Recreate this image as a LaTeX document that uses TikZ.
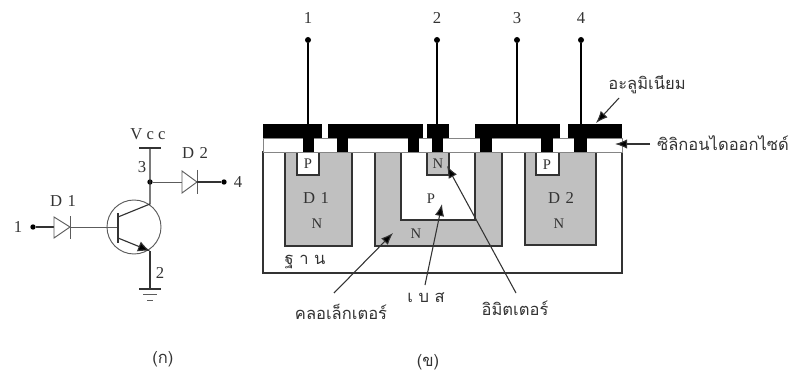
\documentclass[tikz,border=0pt]{standalone}
\usepackage{fontspec}
\setmainfont{Liberation Serif}
\newfontfamily\thaifont[Script=Thai]{Loma}
\usetikzlibrary{arrows.meta}
\definecolor{ink}{HTML}{333333}
\definecolor{region}{HTML}{C0C0C0}
\tikzset{
  x=0.75pt,y=-0.75pt,
  outline/.style={draw=ink,line width=0.9pt},
  metal/.style={fill=black,draw=none},
  wire/.style={draw=ink,line width=0.85pt},
  thin wire/.style={draw=ink!80,line width=0.7pt},
  pointer/.style={draw=ink,line width=0.8pt,-{Latex[length=9pt,width=7pt,fill=black]}},
  pin/.style={circle,fill=black,inner sep=0pt,minimum size=4.5pt},
  lab/.style={text=ink,font=\fontsize{12.5pt}{14pt}\selectfont,inner sep=0pt},
  small lab/.style={text=ink,font=\fontsize{11pt}{13pt}\selectfont,inner sep=0pt},
  thai lab/.style={text=ink,font=\thaifont\fontsize{12.4pt}{14pt}\selectfont,inner sep=0pt}
}
\begin{document}
\begin{tikzpicture}
\useasboundingbox (0,0) rectangle (792,374);
\fill[white] (0,0) rectangle (792,374);
% ---------- circuit (a)
\coordinate (bjtc) at (134,227);
\coordinate (b1) at (118,213);\coordinate (b2) at (118,243);
\coordinate (bjb) at (118,227);
\coordinate (cin) at (118,217);\coordinate (cout) at (150,204);
\coordinate (ein) at (118,238);\coordinate (eout) at (150,251);
\coordinate (vcc) at (150,148);\coordinate (gnd) at (150,289);
\draw[thin wire] (bjtc) circle (27);
\node[pin,minimum size=4pt] (p1) at (33,227) {};
\node[pin,minimum size=4pt] (p4) at (224,182) {};
\node[pin,minimum size=4pt] (jn) at (150,182) {};
\draw[wire] (p1) -- (54,227);
\draw[thin wire] (70,227) -- (bjb);
\draw[thin wire,fill=white] (54,217) -- (54,238) -- (70,227) -- cycle;
\draw[thin wire] (70,216) -- (70,239);
\draw[wire] (b1) -- (b2);
\draw[wire] (cin) -- (cout) -- (vcc);
\draw[wire] (139,148) -- (161,148);
\draw[thin wire] (jn) -- (182,182);
\draw[thin wire,fill=white] (182,171) -- (182,193) -- (197,182) -- cycle;
\draw[thin wire] (197,170) -- (197,194);
\draw[wire] (197,182) -- (p4);
\draw[wire,-{Latex[length=9pt,width=8pt,fill=black]}] (ein) -- (eout);
\draw[wire] (eout) -- (gnd);
\draw[wire] (139,289) -- (161,289);
\draw[thin wire] (143,294) -- (157,294);
\draw[thin wire] (147,300) -- (153,300);
\node[lab] (lvcc) at (148,134) {V c c};
\node[lab] (ld2) at (195,153) {D\,\,2};
\node[lab] (l3) at (142,167) {3};
\node[lab] (l4) at (238,182) {4};
\node[lab] (ld1) at (63,201) {D\,\,1};
\node[lab] (l1) at (18,227) {1};
\node[lab] (l2) at (160,273) {2};
\node[thai lab] (ca) at (163,359) {(ก)};
% ---------- cross-section (b)
\draw[outline,fill=white] (263,152) rectangle (622,273);
\draw[outline,fill=region] (285,152) rectangle (352,246);
\draw[outline,fill=white] (297,152) rectangle (319,175);
\draw[outline,fill=region] (375,152) rectangle (502,246);
\draw[outline,fill=white] (401,152) rectangle (475,220);
\draw[outline,fill=region] (427,152) rectangle (449,175);
\draw[outline,fill=region] (525,152) rectangle (596,245);
\draw[outline,fill=white] (536,152) rectangle (559,175);
\draw[draw=ink!60,line width=0.6pt,fill=white] (263,138) rectangle (622,152);
% metal
\fill[metal] (263,124) rectangle (322,138);
\fill[metal] (328,124) rectangle (423,138);
\fill[metal] (427,124) rectangle (449,138);
\fill[metal] (475,124) rectangle (560,138);
\fill[metal] (568,124) rectangle (622,138);
\fill[metal] (303,138) rectangle (314,152);
\fill[metal] (337,138) rectangle (348,152);
\fill[metal] (408,138) rectangle (419,152);
\fill[metal] (432,138) rectangle (443,152);
\fill[metal] (480,138) rectangle (492,152);
\fill[metal] (541,138) rectangle (553,152);
\fill[metal] (574,138) rectangle (587,152);
% terminals
\node[pin] (t1) at (308,40) {};
\node[pin] (t2) at (437,40) {};
\node[pin] (t3) at (517,40) {};
\node[pin] (t4) at (581,40) {};
\coordinate (m1) at (308,124);\coordinate (m2) at (437,124);
\coordinate (m3) at (517,124);\coordinate (m4) at (581,124);
\draw[wire,draw=black] (t1) -- (m1);
\draw[wire,draw=black] (t2) -- (m2);
\draw[wire,draw=black] (t3) -- (m3);
\draw[wire,draw=black] (t4) -- (m4);
\node[lab,anchor=base] (n1) at (308,24) {1};
\node[lab,anchor=base] (n2) at (437,24) {2};
\node[lab,anchor=base] (n3) at (517,24) {3};
\node[lab,anchor=base] (n4) at (581,24) {4};
% region labels
\node[small lab] (pa) at (308,164) {P};
\node[small lab] (pb) at (547,165) {P};
\node[small lab] (ne) at (438,164) {N};
\node[small lab] (pc) at (431,199) {P};
\node[small lab] (nc) at (416,234) {N};
\node[small lab] (na) at (317,224) {N};
\node[small lab] (nb) at (559,224) {N};
\node[lab] (d1) at (316,198) {D\,\,1};
\node[lab] (d2) at (561,198) {D\,\,2};
\node[thai lab] (sub) at (305,262) {ฐ า น};
% callouts
\node[thai lab] (al) at (647,85) {อะลูมิเนียม};
\node[thai lab] (ox) at (723,143) {ซิลิกอนไดออกไซด์};
\node[thai lab] (co) at (341,312) {คลอเล็กเตอร์};
\node[thai lab] (ba) at (426,298) {เ บ ส};
\node[thai lab] (em) at (515,308) {อิมิตเตอร์};
\node[thai lab] (cb) at (428,362) {(ข)};
\coordinate (alf) at (619,98);\coordinate (alt) at (596,123);
\coordinate (oxf) at (650,144);\coordinate (oxt) at (615,144);
\coordinate (cof) at (334,293);\coordinate (cot) at (393,233);
\coordinate (baf) at (425,285);\coordinate (bat) at (442,204);
\coordinate (emf) at (516,293);\coordinate (emt) at (447,166);
\draw[pointer] (alf) -- (alt);
\draw[pointer] (oxf) -- (oxt);
\draw[pointer] (cof) -- (cot);
\draw[pointer] (baf) -- (bat);
\draw[pointer] (emf) -- (emt);
\end{tikzpicture}
\end{document}
